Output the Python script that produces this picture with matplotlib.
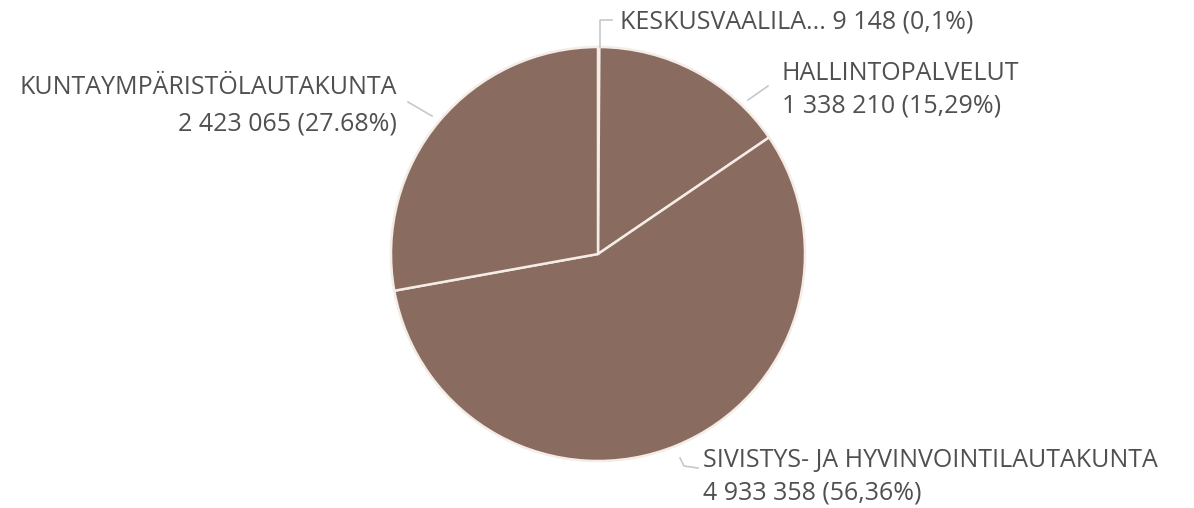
import matplotlib
matplotlib.use("Agg")
import matplotlib.pyplot as plt

# data
categories = ["KESKUSVAALILA...", "HALLINTOPALVELUT",
              "SIVISTYS- JA HYVINVOINTILAUTAKUNTA", "KUNTAYMPÄRISTÖLAUTAKUNTA"]
values = [9148, 1338210, 4933358, 2423065]
value_labels = ["9 148", "1 338 210", "4 933 358", "2 423 065"]
pct_labels = ["0,1%", "15,29%", "56,36%", "27.68%"]

W, H = 1194, 508
fig = plt.figure(figsize=(W / 100, H / 100), dpi=100)
ax = fig.add_axes([0, 0, 1, 1])
ax.set_xlim(0, W)
ax.set_ylim(0, H)
ax.set_aspect("equal")
ax.axis("off")

cx, cy, r = 598, H - 254, 207
ax.pie(values, center=(cx, cy), radius=r, startangle=90, counterclock=False,
       colors=["#8a6b5f"] * len(values),
       wedgeprops=dict(edgecolor="#f4ece6", linewidth=1.8))
ax.set_xlim(0, W)
ax.set_ylim(0, H)

txt = dict(fontsize=18, color="#505050", family="Open Sans")
line = dict(color="#c8c8c8", lw=1.2)

# leader lines (pixel coords from the top)
def seg(pts):
    ax.plot([p[0] for p in pts], [H - p[1] for p in pts], **line)

seg([(600, 47), (600, 20), (612, 20)])
seg([(748, 100), (768, 86)])
seg([(408, 102), (432, 116)])
seg([(680, 458), (684, 466), (698, 468)])

ax.text(620, H - 22, f"{categories[0]} {value_labels[0]} ({pct_labels[0]})",
        ha="left", va="center", **txt)
ax.text(782, H - 74, categories[1], ha="left", va="center", **txt)
ax.text(782, H - 106, f"{value_labels[1]} ({pct_labels[1]})", ha="left", va="center", **txt)
ax.text(397, H - 88, categories[3], ha="right", va="center", **txt)
ax.text(397, H - 124, f"{value_labels[3]} ({pct_labels[3]})", ha="right", va="center", **txt)
ax.text(703, H - 461, categories[2], ha="left", va="center", **txt)
ax.text(703, H - 493, f"{value_labels[2]} ({pct_labels[2]})", ha="left", va="center", **txt)

fig.savefig("out.png", dpi=100, facecolor="white")
